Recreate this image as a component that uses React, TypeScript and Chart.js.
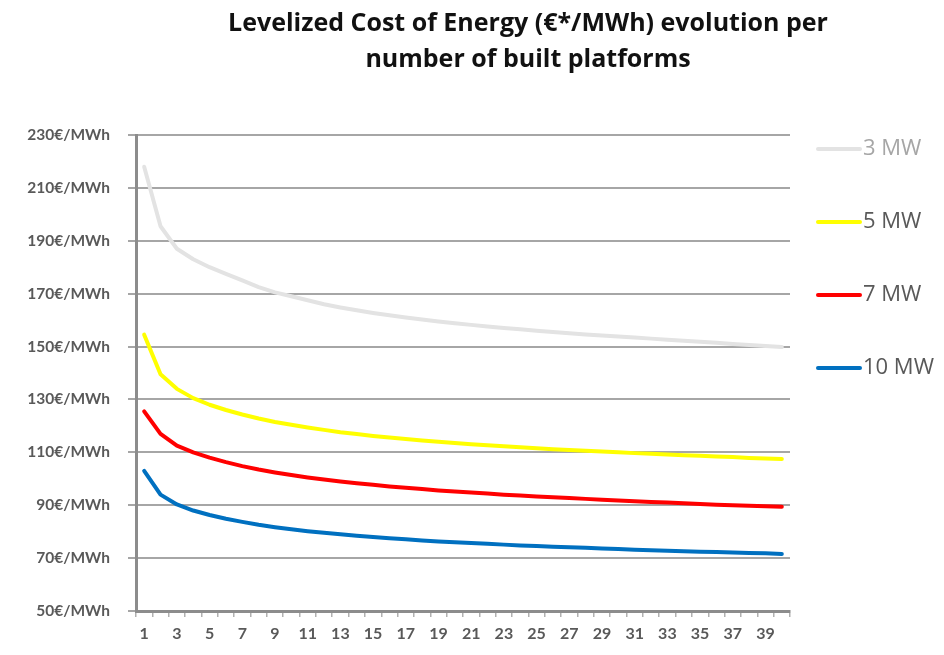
import { useEffect, useRef } from "react";
import { Chart, registerables } from "chart.js";

Chart.register(...registerables);

// Number of platforms built
const platforms = [
  "1", "2", "3", "4", "5", "6", "7", "8", "9", "10",
  "11", "12", "13", "14", "15", "16", "17", "18", "19", "20",
  "21", "22", "23", "24", "25", "26", "27", "28", "29", "30",
  "31", "32", "33", "34", "35", "36", "37", "38", "39", "40",
];

// LCOE in €/MWh for each platform size
const lcoe3MW = [
  218, 195.5, 187, 183, 180, 177.5, 175, 172.5, 170.5, 169,
  167.5, 166, 164.8, 163.7, 162.7, 161.8, 161, 160.2, 159.5, 158.8,
  158.2, 157.6, 157, 156.5, 156, 155.5, 155, 154.6, 154.2, 153.8,
  153.4, 153, 152.6, 152.2, 151.8, 151.4, 151, 150.6, 150.2, 149.8,
];
const lcoe5MW = [
  154.5, 139.5, 134, 130.5, 128, 126, 124.3, 122.8, 121.5, 120.4,
  119.4, 118.5, 117.6, 116.9, 116.2, 115.6, 115, 114.5, 114, 113.5,
  113.1, 112.7, 112.3, 111.9, 111.5, 111.2, 110.9, 110.6, 110.3, 110,
  109.7, 109.5, 109.2, 108.9, 108.7, 108.4, 108.2, 107.9, 107.7, 107.5,
];
const lcoe7MW = [
  125.5, 117, 112.5, 110, 108, 106.3, 104.8, 103.5, 102.4, 101.4,
  100.5, 99.7, 99, 98.3, 97.7, 97.1, 96.6, 96.1, 95.6, 95.2,
  94.8, 94.4, 94, 93.7, 93.3, 93, 92.7, 92.4, 92.1, 91.8,
  91.5, 91.2, 91, 90.7, 90.5, 90.2, 90, 89.8, 89.6, 89.4,
];
const lcoe10MW = [
  103, 94, 90.3, 88, 86.3, 84.9, 83.7, 82.6, 81.7, 80.9,
  80.2, 79.6, 79, 78.5, 78, 77.5, 77.1, 76.7, 76.3, 76,
  75.7, 75.4, 75.1, 74.8, 74.6, 74.3, 74.1, 73.9, 73.6, 73.4,
  73.2, 73, 72.8, 72.6, 72.4, 72.3, 72.1, 71.9, 71.8, 71.6,
];

const seriesNames = ["3 MW", "5 MW", "7 MW", "10 MW"];
const titleLines = [
  "Levelized Cost of Energy (€*/MWh) evolution per",
  "number of built platforms",
];

const AXIS_FONT = "Lato, 'Open Sans', sans-serif";
const TEXT_FONT = "'Open Sans', Lato, sans-serif";
const AXIS_TEXT = "#595959";
const lineColors = ["#e3e3e3", "#ffff00", "#ff0000", "#0070c0"];
const legendTextColors = ["#a6a6a6", AXIS_TEXT, AXIS_TEXT, AXIS_TEXT];

// Draws the two-line title and the right-hand legend
const overlayPlugin = {
  id: "overlay",
  afterDraw(chart: any) {
    const { ctx, chartArea } = chart;
    ctx.save();
    // size the title so its first line spans about 600px
    ctx.font = `bold 20px ${TEXT_FONT}`;
    const w20 = ctx.measureText(titleLines[0]).width || 500;
    const titleSize = Math.min(26, (20 * 600) / w20);
    ctx.fillStyle = "#111111";
    ctx.font = `bold ${titleSize.toFixed(1)}px ${TEXT_FONT}`;
    ctx.textAlign = "center";
    ctx.textBaseline = "middle";
    const cx = chart.width / 2 + 56;
    ctx.fillText(titleLines[0], cx, 16);
    ctx.fillText(titleLines[1], cx, 52);

    chart.data.datasets.forEach((ds: any, i: number) => {
      const y = chartArea.top + 14 + i * 73;
      const x0 = chartArea.right + 28;
      ctx.strokeStyle = ds.borderColor;
      ctx.lineWidth = 4;
      ctx.lineCap = "round";
      ctx.beginPath();
      ctx.moveTo(x0, y);
      ctx.lineTo(x0 + 42, y);
      ctx.stroke();
      ctx.fillStyle = legendTextColors[i];
      ctx.font = `22px ${TEXT_FONT}`;
      ctx.textAlign = "left";
      ctx.fillText(ds.label, x0 + 45, y);
    });
    ctx.restore();
  },
};

export default function App() {
  const canvasRef = useRef<HTMLCanvasElement | null>(null);

  useEffect(() => {
    if (!canvasRef.current) return;
    const values = [lcoe3MW, lcoe5MW, lcoe7MW, lcoe10MW];
    const chart = new Chart(canvasRef.current, {
      type: "line",
      data: {
        labels: platforms,
        datasets: values.map((data, i) => ({
          label: seriesNames[i],
          data,
          borderColor: lineColors[i],
          backgroundColor: lineColors[i],
          borderWidth: 4,
          pointRadius: 0,
          tension: 0,
          borderCapStyle: "round" as const,
          borderJoinStyle: "round" as const,
        })),
      },
      options: {
        animation: false,
        responsive: true,
        maintainAspectRatio: false,
        layout: { padding: { top: 127, right: 146, bottom: 0, left: 0 } },
        plugins: {
          legend: { display: false },
          title: { display: false },
          tooltip: { enabled: false },
        },
        scales: {
          x: {
            offset: true,
            afterFit: (scale: any) => {
              scale.height = 36;
            },
            grid: {
              offset: true,
              drawOnChartArea: false,
              drawTicks: true,
              tickLength: 6,
              color: "#b0b0b0",
              lineWidth: 1.5,
            },
            border: { display: true, color: "#8c8c8c", width: 3 },
            ticks: {
              autoSkip: false,
              maxRotation: 0,
              padding: 7,
              color: AXIS_TEXT,
              font: { family: AXIS_FONT, size: 16, weight: "bold" },
              callback: (_v: any, i: number) => (i % 2 === 0 ? platforms[i] : ""),
            },
          },
          y: {
            min: 50,
            max: 230,
            afterFit: (scale: any) => {
              scale.width = 128;
            },
            grid: {
              color: "#a6a6a6",
              lineWidth: 2,
              tickLength: 8,
            },
            border: { display: true, color: "#8c8c8c", width: 3 },
            ticks: {
              stepSize: 20,
              padding: 18,
              color: AXIS_TEXT,
              font: { family: AXIS_FONT, size: 15.5, weight: "bold" },
              callback: (v: any) => `${v}€/MWh`,
            },
          },
        },
      },
      plugins: [overlayPlugin],
    });
    return () => chart.destroy();
  }, []);

  return (
    <div style={{ position: "relative", width: 928, height: 639 }}>
      <canvas ref={canvasRef} />
    </div>
  );
}
